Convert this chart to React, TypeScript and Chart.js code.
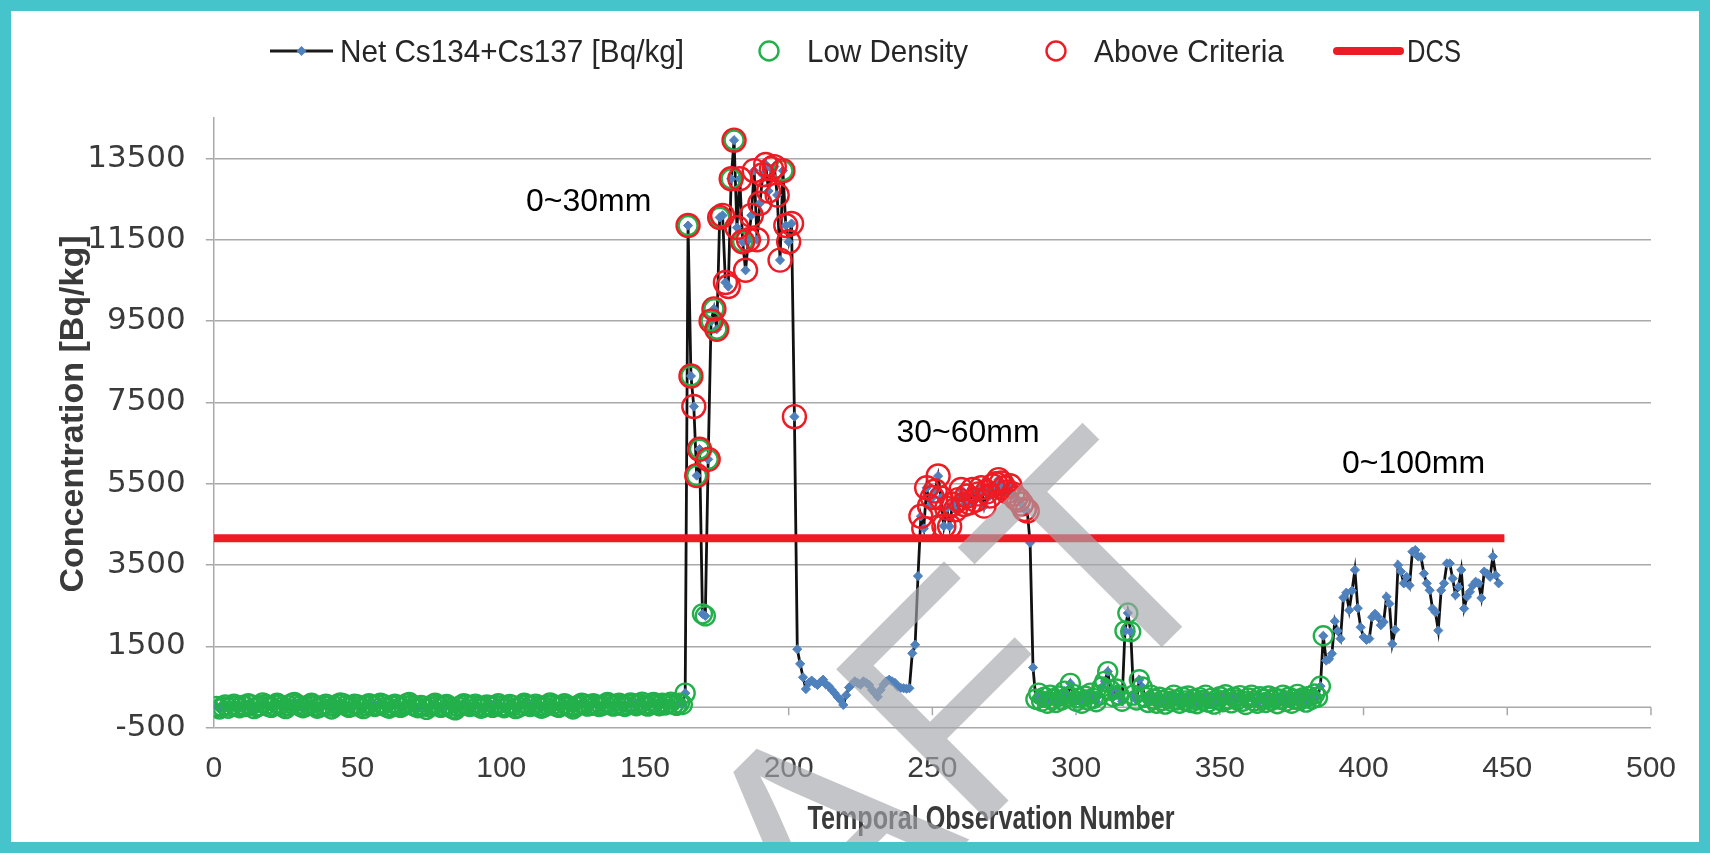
import React, { useEffect, useRef } from "react";
import { Chart, registerables } from "chart.js";

Chart.register(...registerables);

// ---------------- data ----------------
// Net Cs134+Cs137 [Bq/kg], observation 1 onwards, split by survey section
const seg1Surface: number[] = [
  20, -40, 10, 60, -20, 30, 80, 40, -10, 50, 20, 90, 60, -30, 10, 40, 110, 70, 20, 0,
  50, 100, 60, 10, -30, 40, 90, 120, 70, 30, -10, 20, 60, 100, 40, -20, 10, 50, 80, 30,
  -40, 20, 70, 110, 90, 40, 0, 30, 80, 60, 10, -30, 40, 90, 50, 20, 60, 100, 70, 10,
  -20, 30, 80, 50, 0, 40, 90, 120, 60, 20, -10, 50, 30, -50, 10, 60, 100, 40, 0, 30,
  70, 20, -30, -60, 10, 50, 90, 60, 20, 40, 80, 30, -20, 10, 60, 40, 0, 50, 90, 30,
  -10, 20, 70, 40, -30, 0, 50, 100, 60, 20, 40, 80, 30, -20, 10, 60, 110, 70, 30, 0,
  40, 90, 50, 10, -40, 20, 60, 100, 80, 30, 50, 90, 60, 20, 40, 80, 120, 70, 30, 60,
  100, 50, 20, 70, 110, 80, 40, 90, 130, 60, 30, 80, 120, 70, 40, 100, 60, 90, 130, 80,
  50, 100, 70, 350,
];
const seg2Spike: number[] = [
  11850, 8150, 7400, 5700, 6350, 2300, 2250, 6100, 9500, 9800,
  9300, 12050, 12100, 10450, 10350, 13000, 13950, 11800, 13000, 11450,
  10750, 11500, 12100, 13200, 11500, 12400, 13100, 13350, 12700, 13250,
  13300, 12600, 11000, 13200, 11850, 11450, 11900, 7150,
];
const seg3Trough: number[] = [
  1430, 1070, 740, 450, 600, 660, 600, 550, 620, 680, 560, 520, 430, 350, 260, 180, 60, 300, 490, 560,
  640, 600, 560, 640, 600, 550, 430, 350, 260, 430, 560, 640, 680, 640, 600, 510, 480, 470, 460, 470,
  1330, 1540,
];
const seg4Plateau: number[] = [
  3230,
  4700, 4400, 5400, 4950, 5160, 5320, 5690, 5150, 4460, 4900, 4450, 5000, 4860, 5110, 5360, 4990, 5200, 5030, 5360,
  5100, 5250, 5400, 4950, 5300, 5200, 5450, 5500, 5600, 5520, 5400, 5300, 5450, 5250, 5150, 5100, 5000, 4870, 4830,
  4050, 980,
];
const seg5Low: number[] = [
  200, 350, 150, 250, 100, 300, 200, 120, 280, 180,
  400, 250, 590, 320, 150, 230, 100, 280, 180, 350,
  220, 140, 300, 500, 640, 880, 420, 260, 450, 300,
  150, 1880, 2320, 1860, 300, 180, 680, 500, 250, 120,
  300, 200, 100, 250, 170, 80, 220, 150, 300, 180,
  100, 250, 160, 280, 120, 200, 90, 240, 170, 300,
  130, 220, 80, 190, 260, 140, 310, 200, 110, 250,
  180, 290, 150, 70, 230, 300, 160, 100, 260, 200,
  120, 280, 170, 230, 90, 200, 300, 150, 250, 100,
  200, 320, 180, 240, 130, 270, 200, 330, 250,
];
const seg6Deep: number[] = [
  520, 1760, 1150, 1190, 1320, 2120, 1880, 1690, 2700, 2820, 2390, 2870, 3380, 2440, 1970, 1730, 1660, 1690,
  2220, 2300, 2220, 2020, 2100, 2720, 2550, 1560, 1910, 3500, 3340, 3050, 3210, 3000, 3830, 3870, 3710, 3700,
  3290, 3050, 2880, 2430, 2340, 1890, 2880, 3050, 3540, 3540, 3170, 2760, 2960, 3380, 2430, 2720, 2840, 3000,
  3090, 3050, 2690, 3340, 3290, 3210, 3710, 3250, 3050,
];

const DCS_LIMIT = 4160;
const dcsSpan: number[] = [0, 449];

// observation numbers flagged as low density
const lowDensityRanges: number[][] = [[1, 164], [286, 386]];
const lowDensitySpikeObs: number[] = [165, 166, 168, 169, 170, 171, 172, 173, 174, 175, 176, 180, 181, 184, 198];

const xTickValues: number[] = [0, 50, 100, 150, 200, 250, 300, 350, 400, 450, 500];
const yTickValues: number[] = [-500, 1500, 3500, 5500, 7500, 9500, 11500, 13500];

const legendLabels: string[] = ["Net Cs134+Cs137 [Bq/kg]", "Low Density", "Above Criteria", "DCS"];
const zoneLabels: string[] = ["0~30mm", "30~60mm", "0~100mm"];
const xTitle = "Temporal Observation Number";
const yTitle = "Concentration [Bq/kg]";
const watermarkHead = "DRA";
const watermarkTail = "FT";

// ---------------- derived series ----------------
const netValues: number[] = [...seg1Surface, ...seg2Spike, ...seg3Trough, ...seg4Plateau, ...seg5Low, ...seg6Deep];
const netPoints = netValues.map((v, i) => ({ x: i + 1, y: v }));
const isLowDensity = (obs: number) =>
  lowDensityRanges.some(([a, b]) => obs >= a && obs <= b) || lowDensitySpikeObs.includes(obs);
const lowDensityPoints = netPoints.filter((p) => isLowDensity(p.x));
const aboveCriteriaPoints = netPoints.filter((p) => p.y > DCS_LIMIT);
const dcsPoints = dcsSpan.map((x) => ({ x, y: DCS_LIMIT }));

// ---------------- styles / layout ----------------
const FRAME = 11;
const W = 1710 - FRAME * 2;
const H = 853 - FRAME * 2;
const GRID = "#a9a9a9";
const GREEN = "#23b04b";
const RED = "#ed1c24";
const BLUE = "#4f81bd";
const TEXT = "#3a3a3a";
const SANS = "Liberation Sans, Arial, sans-serif";
const zoneLabelPos: number[][] = [[130.4, 12500], [262.4, 6800], [417.4, 6035]];
const WM_SIZE = 312;
const WM_CORNER = [819, 652]; // top-left corner of the "F" stem, canvas px

function fitText(ctx: CanvasRenderingContext2D, text: string, x: number, y: number, font: string, width: number, align: CanvasTextAlign) {
  ctx.save();
  ctx.font = font;
  const w = ctx.measureText(text).width;
  ctx.translate(x, y);
  ctx.scale(width / w, 1);
  ctx.textAlign = align;
  ctx.textBaseline = "alphabetic";
  ctx.fillText(text, 0, 0);
  ctx.restore();
}

const decorPlugin = {
  id: "decor",
  beforeDatasetsDraw(chart: any) {
    const { ctx, scales } = chart;
    const x = scales.x;
    const y = scales.y;
    const y0 = y.getPixelForValue(0);
    ctx.save();
    ctx.strokeStyle = GRID;
    ctx.lineWidth = 1.5;
    ctx.beginPath();
    ctx.moveTo(x.left, y0);
    ctx.lineTo(x.right, y0);
    xTickValues.forEach((v) => {
      const px = x.getPixelForValue(v);
      ctx.moveTo(px, y0);
      ctx.lineTo(px, y0 + 8);
    });
    ctx.stroke();
    ctx.restore();
  },
  afterDraw(chart: any) {
    const { ctx, scales } = chart;
    const x = scales.x;
    const y = scales.y;
    ctx.save();
    // zone labels
    ctx.fillStyle = "#000";
    ctx.font = `32px ${SANS}`;
    ctx.textAlign = "center";
    ctx.textBaseline = "alphabetic";
    zoneLabels.forEach((t, i) => {
      ctx.fillText(t, x.getPixelForValue(zoneLabelPos[i][0]), y.getPixelForValue(zoneLabelPos[i][1]) + 11.5);
    });
    // axis titles
    ctx.fillStyle = TEXT;
    fitText(ctx, xTitle, 980, 818, `bold 34px ${SANS}`, 367, "center");
    ctx.save();
    ctx.translate(72, 403);
    ctx.rotate(-Math.PI / 2);
    ctx.font = `bold 34px ${SANS}`;
    ctx.textAlign = "center";
    ctx.textBaseline = "alphabetic";
    ctx.fillText(yTitle, 0, 0);
    ctx.restore();
    // legend
    const ly = 40;
    ctx.lineWidth = 3;
    ctx.strokeStyle = "#1a1a1a";
    ctx.beginPath();
    ctx.moveTo(259, ly);
    ctx.lineTo(322, ly);
    ctx.stroke();
    ctx.fillStyle = BLUE;
    ctx.beginPath();
    ctx.moveTo(290.5, ly - 5);
    ctx.lineTo(295.5, ly);
    ctx.lineTo(290.5, ly + 5);
    ctx.lineTo(285.5, ly);
    ctx.closePath();
    ctx.fill();
    ctx.lineWidth = 2.4;
    ctx.strokeStyle = GREEN;
    ctx.beginPath();
    ctx.arc(758, ly, 9.5, 0, Math.PI * 2);
    ctx.stroke();
    ctx.strokeStyle = RED;
    ctx.beginPath();
    ctx.arc(1045, ly, 9.5, 0, Math.PI * 2);
    ctx.stroke();
    ctx.lineWidth = 8;
    ctx.lineCap = "round";
    ctx.beginPath();
    ctx.moveTo(1326, ly);
    ctx.lineTo(1389, ly);
    ctx.stroke();
    ctx.fillStyle = "#262626";
    const lf = `32px ${SANS}`;
    fitText(ctx, legendLabels[0], 329, 51, lf, 344, "left");
    fitText(ctx, legendLabels[1], 796, 51, lf, 161, "left");
    fitText(ctx, legendLabels[2], 1083, 51, lf, 190, "left");
    fitText(ctx, legendLabels[3], 1396, 51, lf, 54, "left");
    // watermark
    ctx.save();
    ctx.beginPath();
    ctx.rect(0, 0, W, H);
    ctx.clip();
    ctx.translate(WM_CORNER[0], WM_CORNER[1]);
    ctx.rotate(-Math.PI / 4);
    ctx.font = `${WM_SIZE}px ${SANS}`;
    ctx.fillStyle = "rgba(165,166,170,0.65)";
    ctx.textBaseline = "alphabetic";
    const lsb = 0.082 * WM_SIZE;
    const base = 0.716 * WM_SIZE;
    ctx.textAlign = "right";
    ctx.fillText(watermarkHead, -lsb, base);
    ctx.textAlign = "left";
    ctx.fillText(watermarkTail, -lsb, base);
    ctx.restore();
    ctx.restore();
  },
};

export default function App() {
  const ref = useRef<HTMLCanvasElement | null>(null);
  useEffect(() => {
    if (!ref.current) return;
    const chart = new Chart(ref.current, {
      type: "line",
      data: {
        datasets: [
          {
            label: legendLabels[3],
            data: dcsPoints,
            borderColor: RED,
            borderWidth: 8,
            pointRadius: 0,
            order: 1,
          },
          {
            label: legendLabels[2],
            data: aboveCriteriaPoints,
            showLine: false,
            pointStyle: "circle",
            pointRadius: 11.5,
            pointBorderWidth: 2.4,
            pointBorderColor: RED,
            pointBackgroundColor: "rgba(0,0,0,0)",
            order: 2,
          },
          {
            label: legendLabels[1],
            data: lowDensityPoints,
            showLine: false,
            pointStyle: "circle",
            pointRadius: 9.5,
            pointBorderWidth: 2.4,
            pointBorderColor: GREEN,
            pointBackgroundColor: "rgba(0,0,0,0)",
            order: 3,
          },
          {
            label: legendLabels[0],
            data: netPoints,
            borderColor: "#111",
            borderWidth: 2.8,
            pointStyle: "rectRot",
            pointRadius: 4.6,
            pointBorderWidth: 1,
            pointBackgroundColor: BLUE,
            pointBorderColor: BLUE,
            tension: 0,
            order: 4,
          },
        ] as any,
      },
      options: {
        animation: false,
        responsive: false,
        maintainAspectRatio: false,
        devicePixelRatio: 1,
        layout: { padding: { top: 106.8, right: 47, bottom: 0, left: 0 } },
        plugins: { legend: { display: false }, tooltip: { enabled: false } },
        scales: {
          x: {
            type: "linear",
            min: 0,
            max: 500,
            afterBuildTicks: (s: any) => {
              s.ticks = xTickValues.map((v) => ({ value: v }));
            },
            afterFit: (s: any) => {
              s.height = 114.3;
            },
            grid: { display: false, drawTicks: false },
            border: { display: false },
            ticks: {
              padding: 23,
              color: TEXT,
              font: { family: SANS, size: 30 },
              maxRotation: 0,
              autoSkip: false,
              callback: (v: any) => String(v),
            },
          },
          y: {
            type: "linear",
            min: -500,
            max: 14500,
            afterBuildTicks: (s: any) => {
              s.ticks = yTickValues.map((v) => ({ value: v }));
            },
            afterFit: (s: any) => {
              s.width = 202.8;
            },
            grid: { color: GRID, lineWidth: 1.5, tickLength: 8, drawTicks: true },
            border: { display: true, color: GRID, width: 1.5 },
            ticks: {
              padding: 20,
              color: TEXT,
              font: { family: "DejaVu Sans, sans-serif", size: 31 },
              autoSkip: false,
              callback: (v: any) => String(v),
            },
          },
        },
      } as any,
      plugins: [decorPlugin],
    });
    return () => chart.destroy();
  }, []);

  return (
    <div
      style={{
        position: "absolute",
        left: 0,
        top: 0,
        width: 1710,
        height: 853,
        boxSizing: "border-box",
        border: `${FRAME}px solid #45c5cb`,
        background: "#fff",
      }}
    >
      <canvas ref={ref} width={W} height={H} style={{ display: "block", width: W, height: H }} />
    </div>
  );
}
